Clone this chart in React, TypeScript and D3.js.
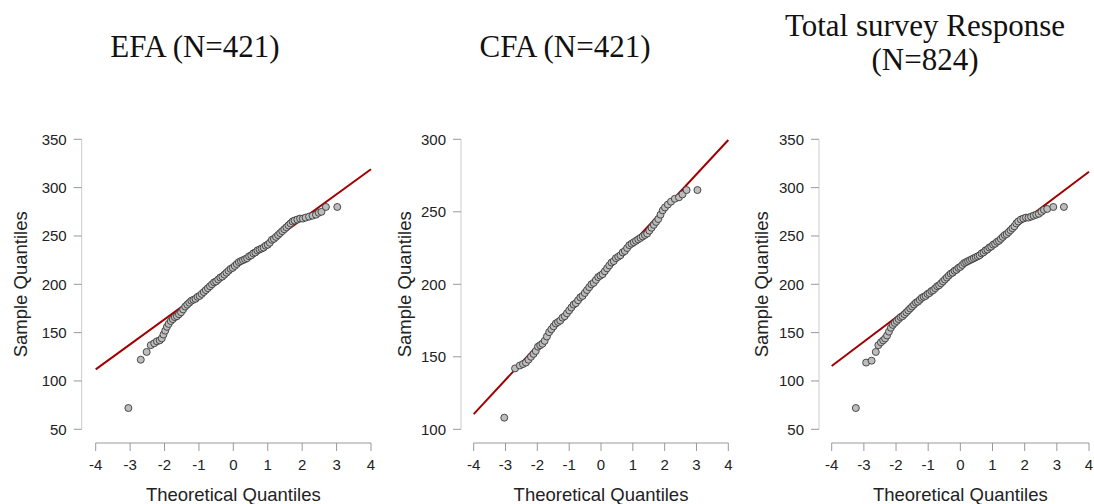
import React from 'react';
import * as d3 from 'd3';

// [theoretical quantile, sample quantile]
const efaPoints: [number, number][] = [
  [-3.05, 72], [-2.69, 122], [-2.52, 130], [-2.40, 137], [-2.30, 139], [-2.22, 141],
  [-2.14, 142], [-2.08, 144], [-2.03, 148], [-1.98, 152], [-1.93, 156], [-1.88, 159],
  [-1.82, 162], [-1.76, 164], [-1.70, 166], [-1.64, 167], [-1.58, 169], [-1.52, 171],
  [-1.46, 174], [-1.40, 177], [-1.34, 179], [-1.28, 181], [-1.22, 183], [-1.16, 184],
  [-1.10, 185], [-1.04, 187], [-0.98, 188], [-0.92, 190], [-0.86, 192], [-0.80, 194],
  [-0.74, 196], [-0.68, 198], [-0.62, 200], [-0.56, 202], [-0.50, 203], [-0.44, 205],
  [-0.38, 207], [-0.32, 208], [-0.26, 210], [-0.20, 212], [-0.14, 214], [-0.08, 216],
  [-0.02, 217], [0.04, 219], [0.10, 221], [0.16, 223], [0.22, 224], [0.28, 225],
  [0.34, 226], [0.40, 227], [0.46, 229], [0.52, 230], [0.58, 232], [0.64, 233],
  [0.70, 235], [0.76, 236], [0.82, 237], [0.88, 238], [0.94, 240], [1.00, 241],
  [1.06, 243], [1.12, 246], [1.18, 247], [1.24, 249], [1.30, 251], [1.36, 253],
  [1.42, 255], [1.48, 257], [1.54, 259], [1.60, 261], [1.66, 263], [1.72, 265],
  [1.78, 266], [1.86, 267], [1.94, 268], [2.02, 268], [2.10, 269], [2.20, 270],
  [2.30, 271], [2.40, 272], [2.48, 274], [2.56, 275], [2.69, 280], [3.02, 280],
];

const cfaPoints: [number, number][] = [
  [-3.04, 108], [-2.70, 142], [-2.55, 144], [-2.45, 145], [-2.36, 146], [-2.28, 148],
  [-2.20, 150], [-2.12, 152], [-2.05, 154], [-1.98, 157], [-1.91, 158], [-1.84, 159],
  [-1.77, 161], [-1.70, 164], [-1.63, 167], [-1.56, 169], [-1.49, 171], [-1.42, 173],
  [-1.35, 174], [-1.28, 175], [-1.21, 177], [-1.14, 178], [-1.07, 180], [-1.00, 182],
  [-0.93, 184], [-0.86, 186], [-0.79, 187], [-0.72, 189], [-0.65, 191], [-0.58, 192],
  [-0.51, 194], [-0.44, 196], [-0.37, 198], [-0.30, 200], [-0.23, 201], [-0.16, 203],
  [-0.09, 205], [-0.02, 206], [0.05, 207], [0.12, 209], [0.19, 211], [0.26, 213],
  [0.33, 215], [0.40, 216], [0.47, 218], [0.54, 219], [0.61, 220], [0.68, 222],
  [0.75, 223], [0.82, 225], [0.89, 227], [0.96, 228], [1.03, 229], [1.10, 230],
  [1.17, 231], [1.24, 232], [1.31, 233], [1.38, 234], [1.45, 235], [1.52, 237],
  [1.59, 239], [1.66, 241], [1.73, 243], [1.80, 245], [1.87, 248], [1.94, 251],
  [2.01, 253], [2.10, 255], [2.20, 257], [2.32, 259], [2.45, 260], [2.56, 262],
  [2.69, 265], [3.03, 265],
];

const totalPoints: [number, number][] = [
  [-3.25, 72], [-2.93, 119], [-2.76, 121], [-2.63, 130], [-2.55, 137], [-2.47, 140],
  [-2.40, 142], [-2.34, 144], [-2.28, 147], [-2.22, 151], [-2.16, 155], [-2.10, 158],
  [-2.04, 160], [-1.98, 162], [-1.92, 164], [-1.86, 166], [-1.80, 167], [-1.74, 169],
  [-1.68, 171], [-1.62, 173], [-1.56, 175], [-1.50, 177], [-1.44, 179], [-1.38, 181],
  [-1.32, 182], [-1.26, 184], [-1.20, 186], [-1.14, 187], [-1.08, 188], [-1.02, 190],
  [-0.96, 191], [-0.90, 193], [-0.84, 194], [-0.78, 196], [-0.72, 198], [-0.66, 199],
  [-0.60, 201], [-0.54, 203], [-0.48, 205], [-0.42, 207], [-0.36, 209], [-0.30, 211],
  [-0.24, 212], [-0.18, 214], [-0.12, 215], [-0.06, 217], [0.00, 218], [0.06, 220],
  [0.12, 222], [0.18, 223], [0.24, 224], [0.30, 225], [0.36, 226], [0.42, 227],
  [0.48, 228], [0.54, 229], [0.60, 230], [0.66, 232], [0.72, 233], [0.78, 235],
  [0.84, 236], [0.90, 238], [0.96, 239], [1.02, 241], [1.08, 242], [1.14, 244],
  [1.20, 245], [1.26, 247], [1.32, 249], [1.38, 251], [1.44, 252], [1.50, 254],
  [1.56, 256], [1.62, 258], [1.68, 260], [1.74, 263], [1.80, 265], [1.88, 267],
  [1.96, 268], [2.04, 269], [2.12, 269], [2.20, 270], [2.28, 271], [2.36, 272],
  [2.44, 273], [2.52, 275], [2.60, 277], [2.70, 278], [2.89, 280], [3.22, 280],
];

// reference line ends at x = -4 and x = 4
const efaLine = [112, 319];
const cfaLine = [110.5, 299.5];
const totalLine = [115.5, 316.5];

const xTicks = [-4, -3, -2, -1, 0, 1, 2, 3, 4];
const yTicksWide = [50, 100, 150, 200, 250, 300, 350];
const yTicksCfa = [100, 150, 200, 250, 300];

const panelTitles = [['EFA (N=421)'], ['CFA (N=421)'], ['Total survey Response', '(N=824)']];

const panels = [
  { points: efaPoints, line: efaLine, yTicks: yTicksWide, left: 95.7, right: 371, axisX: 81.7, labelX: 21, titleX: 195 },
  { points: cfaPoints, line: cfaLine, yTicks: yTicksCfa, left: 473.7, right: 728.3, axisX: 461, labelX: 405, titleX: 565 },
  { points: totalPoints, line: totalLine, yTicks: yTicksWide, left: 831.7, right: 1089, axisX: 819, labelX: 762, titleX: 925 },
];

const TOP = 139.3;
const BOTTOM = 429.3;
const X_AXIS_Y = 443;
const sans = '"Liberation Sans", Arial, sans-serif';
const serif = '"Liberation Serif", "Times New Roman", serif';

function QQPanel({ p, title }: { p: typeof panels[0]; title: string[] }) {
  const x = d3.scaleLinear().domain([-4, 4]).range([p.left, p.right]);
  const y = d3.scaleLinear()
    .domain([p.yTicks[0], p.yTicks[p.yTicks.length - 1]])
    .range([BOTTOM, TOP]);
  const midX = (p.left + p.right) / 2;

  return (
    <g>
      {title.length === 1 ? (
        <text x={p.titleX} y={57} textAnchor="middle" fontFamily={serif} fontSize={31} fill="#111">{title[0]}</text>
      ) : (
        <g fontFamily={serif} fontSize={31} fill="#111">
          <text x={p.titleX} y={36} textAnchor="middle">{title[0]}</text>
          <text x={p.titleX} y={70} textAnchor="middle">{title[1]}</text>
        </g>
      )}

      {/* y axis */}
      <line x1={p.axisX} x2={p.axisX} y1={y(p.yTicks[0])} y2={y(p.yTicks[p.yTicks.length - 1])}
        stroke="#cccccc" strokeWidth={1} />
      {p.yTicks.map(t => (
        <g key={t}>
          <line x1={p.axisX - 8} x2={p.axisX} y1={y(t)} y2={y(t)} stroke="#999" strokeWidth={1} />
          <text x={p.axisX - 15} y={y(t)} dy="0.35em" textAnchor="end" fontFamily={sans}
            fontSize={15} fill="#222">{t}</text>
        </g>
      ))}
      <text transform={`translate(${p.labelX},${(TOP + BOTTOM) / 2}) rotate(-90)`} textAnchor="middle"
        dy="0.35em" fontFamily={sans} fontSize={18.5} fill="#222">Sample Quantiles</text>

      {/* x axis */}
      <line x1={x(-4)} x2={x(4)} y1={X_AXIS_Y} y2={X_AXIS_Y} stroke="#999" strokeWidth={1} />
      {xTicks.map(t => (
        <g key={t}>
          <line x1={x(t)} x2={x(t)} y1={X_AXIS_Y} y2={X_AXIS_Y + 8} stroke="#999" strokeWidth={1} />
          <text x={x(t)} y={465} dy="0.35em" textAnchor="middle" fontFamily={sans}
            fontSize={15} fill="#222">{t}</text>
        </g>
      ))}
      <text x={midX} y={495} dy="0.35em" textAnchor="middle" fontFamily={sans}
        fontSize={18.5} fill="#222">Theoretical Quantiles</text>

      {/* reference line, under the points */}
      <line x1={x(-4)} y1={y(p.line[0])} x2={x(4)} y2={y(p.line[1])} stroke="#a00000" strokeWidth={2} />

      {/* points */}
      {p.points.map(([q, v], i) => (
        <circle key={i} cx={x(q)} cy={y(v)} r={3.5} fill="#bdbdbd" stroke="#3a3a3a" strokeWidth={0.9} />
      ))}
    </g>
  );
}

export default function App() {
  return (
    <svg width={1094} height={504} style={{ position: 'absolute', left: 0, top: 0, background: '#fff' }}>
      {panels.map((p, i) => (
        <QQPanel key={i} p={p} title={panelTitles[i]} />
      ))}
    </svg>
  );
}
